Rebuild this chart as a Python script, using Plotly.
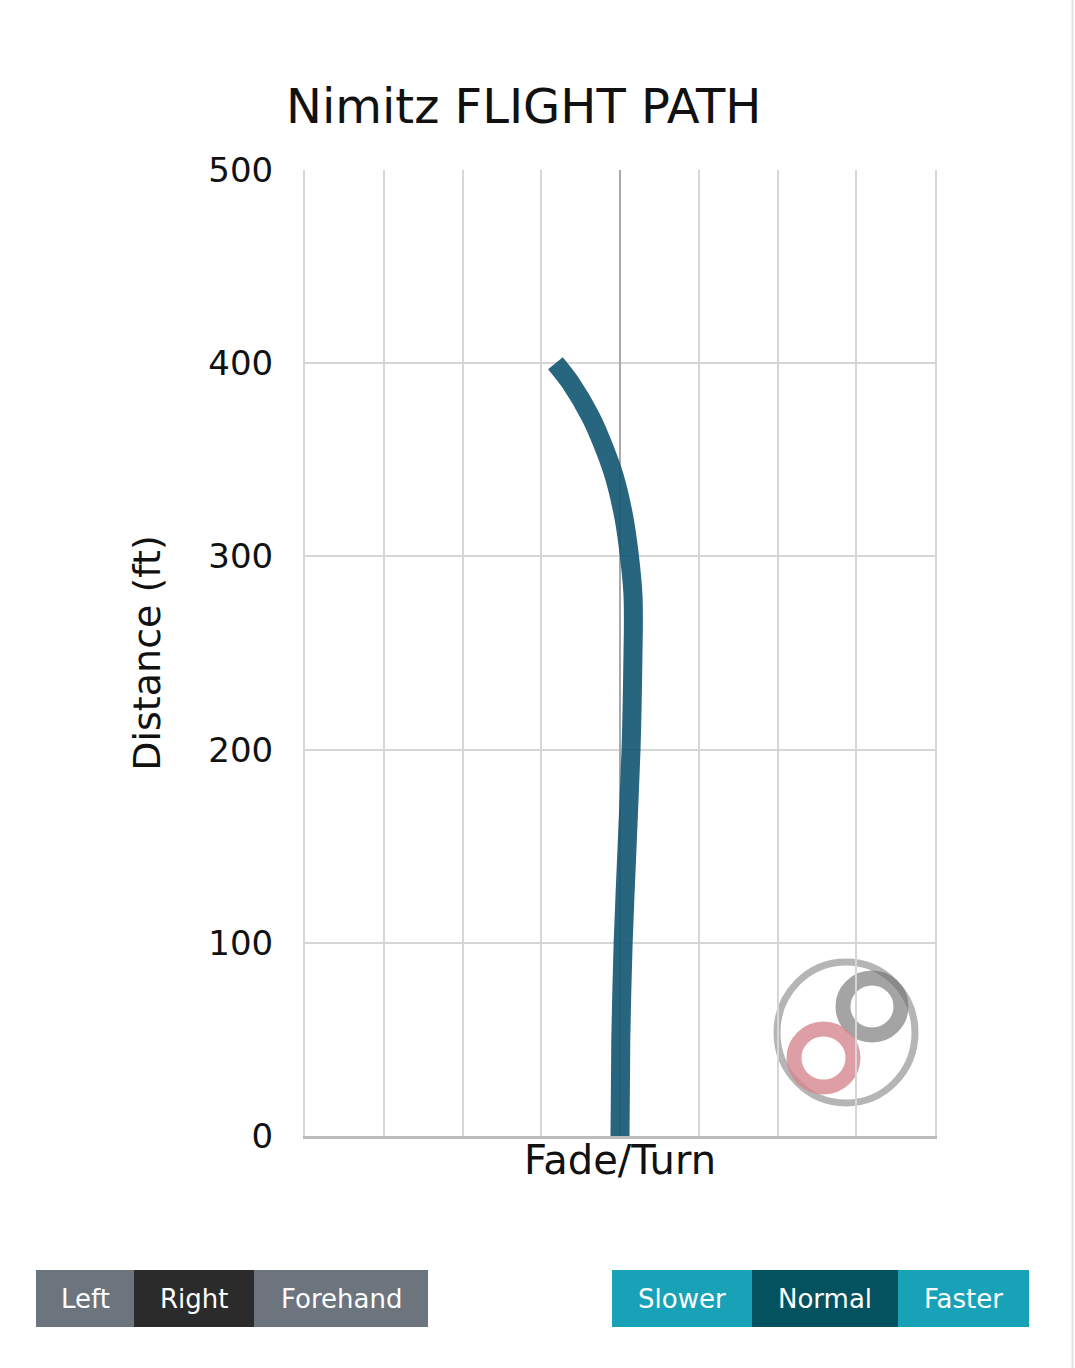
import plotly.graph_objects as go

# ---- data ----
distance_ft = [0, 50, 100, 150, 200, 225, 250, 265, 280, 300, 320, 341, 355, 372, 390, 400]
fade_turn = [0.0, 0.01, 0.04, 0.09, 0.14, 0.155, 0.165, 0.17, 0.165, 0.12, 0.05, -0.07, -0.19, -0.37, -0.63, -0.82]
y_ticks = [0, 100, 200, 300, 400, 500]
hand_buttons = ["Left", "Right", "Forehand"]
speed_buttons = ["Slower", "Normal", "Faster"]

W, H = 1075, 1368
L, R, T, B = 305, 935, 170, 1136
FONT = "DejaVu Sans"


def px(x):
    return (x - L) / (R - L)


def py(y):
    return (B - y) / (B - T)


fig = go.Figure()
fig.add_trace(go.Scatter(
    x=fade_turn, y=distance_ft, mode="lines",
    line=dict(color="rgba(22,88,115,0.92)", width=19, shape="spline", smoothing=0.8),
    hoverinfo="skip", showlegend=False,
))

shapes = []
# watermark logo
shapes.append(dict(type="circle", xref="paper", yref="paper", layer="below",
                   x0=px(777), x1=px(915), y0=py(1103), y1=py(962),
                   line=dict(color="rgba(120,120,120,0.55)", width=7)))
shapes.append(dict(type="circle", xref="paper", yref="paper", layer="below",
                   x0=px(843), x1=px(901), y0=py(1035), y1=py(978),
                   line=dict(color="rgba(115,115,115,0.65)", width=15)))
shapes.append(dict(type="circle", xref="paper", yref="paper", layer="below",
                   x0=px(794), x1=px(853), y0=py(1087), y1=py(1029),
                   line=dict(color="rgba(212,135,143,0.8)", width=15)))
# right page edge
shapes.append(dict(type="line", xref="paper", yref="paper",
                   x0=px(1072.5), x1=px(1072.5), y0=py(H), y1=py(0),
                   line=dict(color="#e3e3e3", width=2)))

annotations = [dict(text="Nimitz FLIGHT PATH", xref="paper", yref="paper",
                    x=px(523.5), y=py(106), xanchor="center", yanchor="middle",
                    showarrow=False, font=dict(family=FONT, size=48, color="#111"))]


def add_buttons(labels, edges, colors, active_text="white"):
    for lab, (x0, x1), c in zip(labels, edges, colors):
        shapes.append(dict(type="rect", xref="paper", yref="paper",
                           x0=px(x0), x1=px(x1), y0=py(1327), y1=py(1270),
                           fillcolor=c, line=dict(width=0)))
        annotations.append(dict(text=lab, xref="paper", yref="paper",
                                x=px((x0 + x1) / 2), y=py(1299), xanchor="center",
                                yanchor="middle", showarrow=False,
                                font=dict(family=FONT, size=26, color=active_text)))


add_buttons(hand_buttons, [(36, 134), (134, 254), (254, 428)],
            ["#6c747e", "#2b2b2b", "#6c747e"])
add_buttons(speed_buttons, [(612, 752), (752, 898), (898, 1029)],
            ["#17a2b8", "#03525f", "#17a2b8"])

fig.update_layout(
    width=W, height=H,
    margin=dict(l=L, r=W - R, t=T, b=H - B, autoexpand=False),
    paper_bgcolor="white", plot_bgcolor="white",
    font=dict(family=FONT, color="#111"),
    shapes=shapes, annotations=annotations,
    xaxis=dict(range=[-4, 4], dtick=1, tick0=0, showticklabels=False,
               showgrid=True, gridcolor="#d6d6d6", gridwidth=2,
               zeroline=True, zerolinecolor="#a9a9a9", zerolinewidth=2,
               showline=True, linecolor="#bdbdbd", linewidth=3,
               fixedrange=True,
               title=dict(text="Fade/Turn", font=dict(family=FONT, size=40, color="#111"),
                          standoff=8)),
    yaxis=dict(range=[0, 500], tickvals=y_ticks, ticktext=[str(v) for v in y_ticks],
               showgrid=True, gridcolor="#d6d6d6", gridwidth=2,
               zeroline=False, showline=True, linecolor="#d6d6d6", linewidth=2,
               mirror=True, ticklabelstandoff=23,
               tickfont=dict(family=FONT, size=34, color="#111"),
               fixedrange=True,
               title=dict(text="Distance (ft)", font=dict(family=FONT, size=38, color="#111"),
                          standoff=36)),
)

fig.write_html("out.html", config={"displayModeBar": False},
               post_script="document.body.style.margin='0';document.body.style.overflow='hidden';")
